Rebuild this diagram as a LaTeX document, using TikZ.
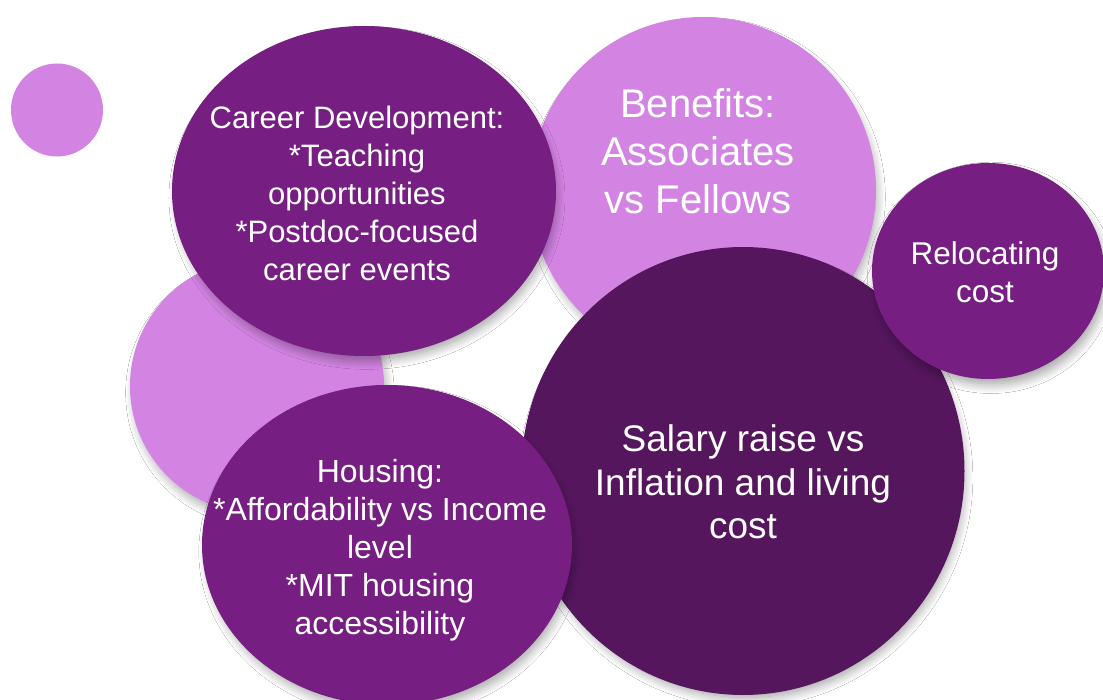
\documentclass[tikz,border=0pt]{standalone}
\usepackage{fontspec}
\setmainfont{Liberation Sans}
\usetikzlibrary{shapes.geometric,shadows.blur}
\definecolor{lightpurple}{HTML}{D384E3}
\definecolor{midpurple}{HTML}{761E82}
\definecolor{darkpurple}{HTML}{55165E}
\tikzset{
  blob/.style={ellipse, inner sep=0pt, draw=none,
    blur shadow={shadow xshift=3pt, shadow yshift=-7pt, shadow scale=0.98, shadow blur radius=10pt, shadow blur steps=14, shadow opacity=40}},
  txt/.style={text=white, align=center, inner sep=0pt},
}
\begin{document}
\begin{tikzpicture}[x=1pt,y=-1pt]
\useasboundingbox (0,0) rectangle (1103,700);
\fill[white] (0,0) rectangle (1103,700);
% small circle
\node[ellipse, inner sep=0pt, fill=lightpurple, minimum width=92pt, minimum height=93pt] (dot) at (57,110) {};
% light circle behind housing
\node[blob, fill=lightpurple, minimum width=254pt, minimum height=254pt] (leftc) at (257,386) {};
% benefits
\node[blob, fill=lightpurple, minimum width=346pt, minimum height=346pt] (ben) at (703,190) {};
% career
\node[blob, fill=midpurple, minimum width=384pt, minimum height=330pt] (car) at (364,191) {};
% salary
\node[blob, fill=darkpurple, minimum width=443pt, minimum height=448pt] (sal) at (743,471) {};
% relocating
\node[blob, fill=midpurple, minimum width=232pt, minimum height=216pt] (rel) at (988,271) {};
% housing
\node[blob, fill=midpurple, minimum width=370pt, minimum height=320pt] (hou) at (387,545) {};

% texts
\node[txt, font=\fontsize{31}{38}\selectfont] (cart) at (357,193) {Career Development:\\*Teaching\\opportunities\\*Postdoc-focused\\career events};
\node[txt, font=\fontsize{40}{48}\selectfont] (bent) at (698,151) {Benefits:\\Associates\\vs Fellows};
\node[txt, font=\fontsize{37}{43.5}\selectfont] (salt) at (743,482) {Salary raise vs\\Inflation and living\\cost};
\node[txt, font=\fontsize{31.5}{38}\selectfont] (relt) at (985,272) {Relocating\\cost};
\node[txt, font=\fontsize{32}{38}\selectfont] (hout) at (380,550) {Housing:\\*Affordability vs Income\\level\\*MIT housing\\accessibility};
\end{tikzpicture}
\end{document}
